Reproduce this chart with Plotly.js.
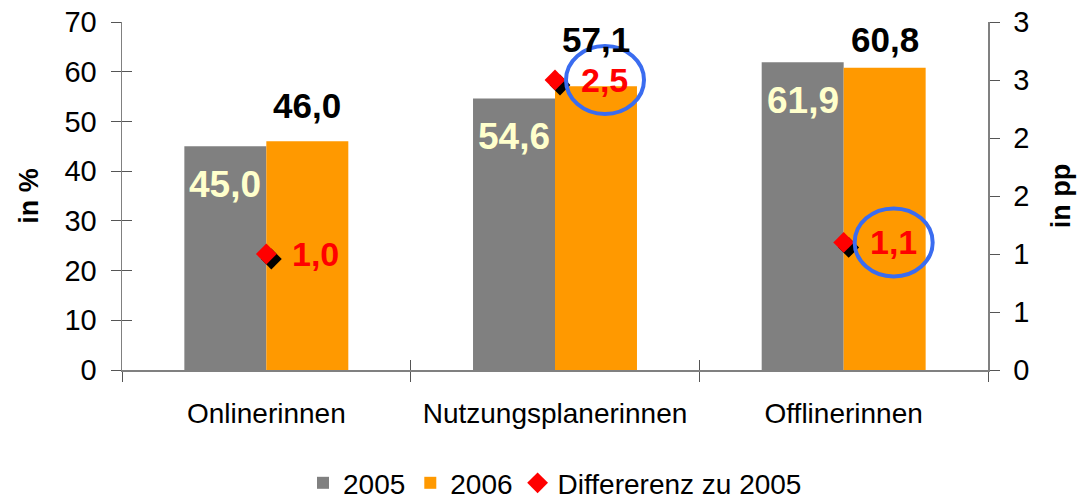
<!DOCTYPE html>
<html>
<head>
<meta charset="utf-8">
<script src="https://cdn.plot.ly/plotly-3.0.1.min.js"></script>
<style>html,body{margin:0;padding:0;background:#fff;}#chart{width:1091px;height:503px;}</style>
</head>
<body>
<div id="chart"></div>
<script>
// ---- data ----
const categories = ['Onlinerinnen', 'Nutzungsplanerinnen', 'Offlinerinnen'];
const values2005 = [45.0, 54.6, 61.9];
const values2006 = [46.0, 57.1, 60.8];
const diffs = [1.0, 2.5, 1.1];
const highlighted = [false, true, true];
const seriesNames = ['2005', '2006', 'Differerenz zu 2005'];
const leftTickVals = [0, 10, 20, 30, 40, 50, 60, 70];
const rightTickVals = [0, 0.5, 1, 1.5, 2, 2.5, 3];
const rightTickText = ['0', '1', '1', '2', '2', '3', '3'];

// ---- layout constants ----
const W = 1091, H = 503;
const M = {l: 122, r: 103, t: 22, b: 133, autoexpand: false};
const plotW = W - M.l - M.r, plotH = H - M.t - M.b;
const pxPerCat = plotW / categories.length;
const pxPerPP = plotH / 3;
const bargap = 0.432;
const halfBar = (1 - bargap) / 4; // centre offset of each bar in category units
const FONT = '"Liberation Sans", Arial, sans-serif';
const topShift = [36, 47, 28];
const fmt = v => v.toFixed(1).replace('.', ',');
const idx = categories.map((c, i) => i);

const traces = [
  {type: 'bar', name: seriesNames[0], x: categories, y: values2005, marker: {color: '#808080'}, xaxis: 'x', yaxis: 'y', hoverinfo: 'none'},
  {type: 'bar', name: seriesNames[1], x: categories, y: values2006, marker: {color: '#FF9900'}, xaxis: 'x', yaxis: 'y', hoverinfo: 'none'},
  {type: 'scatter', mode: 'markers', showlegend: false, x: idx.map(i => i + 5 / pxPerCat), y: diffs.map(d => d - 5 / pxPerPP),
   marker: {symbol: 'diamond', size: 16, color: '#000000'}, xaxis: 'x3', yaxis: 'y2', hoverinfo: 'none'},
  {type: 'scatter', mode: 'markers', name: seriesNames[2], x: idx, y: diffs,
   marker: {symbol: 'diamond', size: 16, color: '#FF0000'}, xaxis: 'x3', yaxis: 'y2', hoverinfo: 'none'},
  {type: 'scatter', mode: 'markers', showlegend: false, x: [], y: [], xaxis: 'x', yaxis: 'y3', hoverinfo: 'none'}
];

const annotations = [];
idx.forEach(i => {
  annotations.push({xref: 'x3', yref: 'y', x: i - halfBar, y: values2005[i], yshift: -38, yanchor: 'middle', xanchor: 'center',
    text: fmt(values2005[i]), showarrow: false, font: {family: FONT, size: 37, color: '#FFFFCC', weight: 'bold'}});
  annotations.push({xref: 'x3', yref: 'y', x: i + halfBar, y: values2006[i], yshift: topShift[i], yanchor: 'middle', xanchor: 'center',
    text: fmt(values2006[i]), showarrow: false, font: {family: FONT, size: 35, color: '#000000', weight: 'bold'}});
  annotations.push({xref: 'x3', yref: 'y2', x: i, y: diffs[i], xshift: 24, yanchor: 'middle', xanchor: 'left',
    text: fmt(diffs[i]), showarrow: false, font: {family: FONT, size: 34, color: '#FF0000', weight: 'bold'}});
});

const shapes = [];
idx.filter(i => highlighted[i]).forEach(i => {
  const cx = i + 50 / pxPerCat, rx = 39 / pxPerCat, ry = 34 / pxPerPP;
  shapes.push({type: 'circle', xref: 'x3', yref: 'y2', x0: cx - rx, x1: cx + rx, y0: diffs[i] - ry, y1: diffs[i] + ry,
    line: {color: '#3A6CF0', width: 4}, fillcolor: 'rgba(0,0,0,0)'});
});

const axisCommon = {showgrid: false, zeroline: false, tickcolor: '#555555', linecolor: '#808080', linewidth: 1.5};

const layout = {
  width: W, height: H, margin: M,
  paper_bgcolor: '#ffffff', plot_bgcolor: '#ffffff',
  font: {family: FONT, color: '#000000'},
  barmode: 'group', bargap: bargap, bargroupgap: 0,
  showlegend: true,
  legend: {orientation: 'h', x: 0.5, xanchor: 'center', y: -0.325, yanchor: 'middle', font: {family: FONT, size: 28}, traceorder: 'normal', itemwidth: 30},
  xaxis: Object.assign({}, axisCommon, {type: 'category', tickson: 'boundaries', ticks: 'outside', ticklen: 10, showline: true,
    range: [-0.5, 2.5], tickfont: {family: FONT, size: 28}, ticklabelstandoff: 18, automargin: false}),
  xaxis3: {overlaying: 'x', anchor: 'y', type: 'linear', range: [-0.5, 2.5], tickvals: [-0.5, 0.5, 1.5, 2.5], ticks: 'inside', ticklen: 10,
    tickcolor: '#555555', showticklabels: false, showline: false, showgrid: false, zeroline: false},
  yaxis: Object.assign({}, axisCommon, {range: [0, 70], tickvals: leftTickVals, ticks: 'outside', ticklen: 10, showline: true,
    tickfont: {family: FONT, size: 29}, ticklabelstandoff: 8, automargin: false,
    title: {text: 'in %', font: {family: FONT, size: 27, weight: 'bold'}, standoff: 18}}),
  yaxis3: {overlaying: 'y', anchor: 'x', side: 'left', range: [0, 70], tickvals: leftTickVals, ticks: 'inside', ticklen: 10,
    tickcolor: '#555555', showticklabels: false, showline: false, showgrid: false, zeroline: false},
  yaxis2: Object.assign({}, axisCommon, {overlaying: 'y', side: 'right', anchor: 'x', range: [0, 3], tickvals: rightTickVals, ticktext: rightTickText,
    ticks: 'outside', ticklen: 10, showline: true, tickfont: {family: FONT, size: 29}, ticklabelstandoff: 8, automargin: false,
    title: {text: 'in pp', font: {family: FONT, size: 27, weight: 'bold'}, standoff: 22}}),
  annotations: annotations,
  shapes: shapes
};

Plotly.newPlot('chart', traces, layout, {displayModeBar: false, staticPlot: true});
</script>
</body>
</html>
